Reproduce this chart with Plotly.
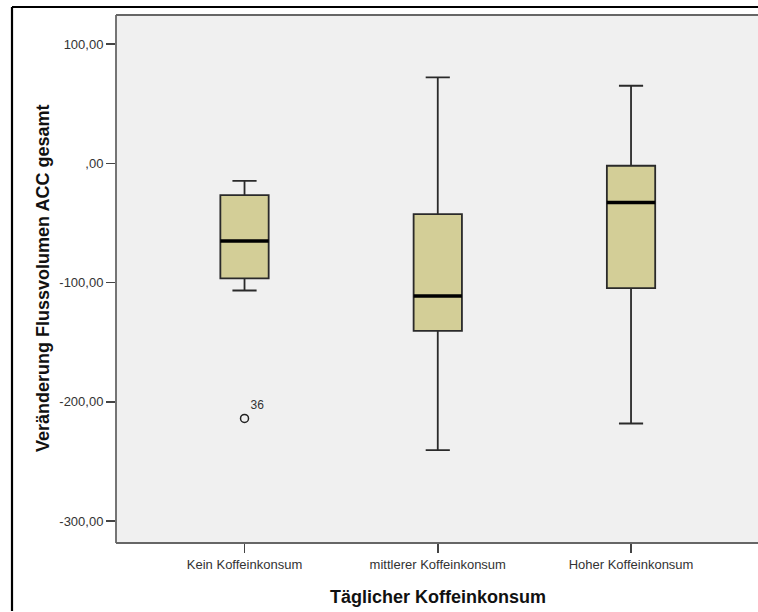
import plotly.graph_objects as go

categories = ["Kein Koffeinkonsum", "mittlerer Koffeinkonsum", "Hoher Koffeinkonsum"]
q1 = [-96.6, -140.5, -104.7]
median = [-65.2, -111.4, -32.9]
q3 = [-26.7, -42.6, -2.1]
lower_whisker = [-106.7, -240.5, -218.2]
upper_whisker = [-14.7, 72.0, 65.0]
outlier_x = [0]
outlier_y = [-214.0]
outlier_labels = ["36"]
ytick_vals = [100, 0, -100, -200, -300]
ytick_text = ["100,00", ",00", "-100,00", "-200,00", "-300,00"]

W, H = 758, 612
L, R, T, B = 116, 0, 15, 69
pw, ph = W - L - R, H - T - B
box_w = 0.25

fig = go.Figure()
xs = list(range(len(categories)))
for i in xs:
    fig.add_trace(go.Box(
        x=[i], q1=[q1[i]], median=[median[i]], q3=[q3[i]],
        lowerfence=[lower_whisker[i]], upperfence=[upper_whisker[i]],
        width=box_w, whiskerwidth=0.5, fillcolor="#d3ce97",
        line=dict(color="#2a2a2a", width=1.8), boxpoints=False,
        showlegend=False, hoverinfo="skip"))
    fig.add_trace(go.Scatter(
        x=[i - box_w / 2, i + box_w / 2], y=[median[i], median[i]],
        mode="lines", line=dict(color="#000000", width=3.5),
        showlegend=False, hoverinfo="skip"))

fig.add_trace(go.Scatter(
    x=outlier_x, y=outlier_y, mode="markers+text", text=outlier_labels,
    textposition="top right",
    textfont=dict(family="Liberation Sans", size=12, color="#333333"),
    marker=dict(symbol="circle-open", size=8, color="#222222", line=dict(width=1.5)),
    showlegend=False, hoverinfo="skip"))

font_tick = dict(family="Liberation Sans", size=13, color="#333333")
frame_gray = dict(color="#666666", width=1.8)
frame_black = dict(color="#000000", width=2.2)
fx0 = (12 - L) / pw
fy1 = (H - B - 7) / ph
fy0 = -(B - 1) / ph
fig.update_layout(
    width=W, height=H,
    margin=dict(l=L, r=R, t=T, b=B, pad=0),
    paper_bgcolor="#ffffff", plot_bgcolor="#f0f0f0",
    dragmode=False,
    xaxis=dict(range=[-0.665, 2.657], tickvals=xs, ticktext=categories,
               ticks="outside", ticklen=9, tickwidth=1.5, tickcolor="#444444",
               showgrid=False, zeroline=False, showline=False, mirror=False,
               tickfont=font_tick, fixedrange=True),
    yaxis=dict(range=[-318.4, 124.3], tickvals=ytick_vals, ticktext=ytick_text,
               ticks="outside", ticklen=9, tickwidth=1.5, tickcolor="#444444",
               showgrid=False, zeroline=False, showline=False, mirror=False,
               tickfont=font_tick, fixedrange=True),
    shapes=[
        dict(type="line", xref="paper", yref="paper", x0=0, x1=1, y0=1, y1=1, line=frame_gray, layer="above"),
        dict(type="line", xref="paper", yref="paper", x0=0, x1=1, y0=0, y1=0, line=frame_gray, layer="above"),
        dict(type="line", xref="paper", yref="paper", x0=0, x1=0, y0=0, y1=1, line=frame_gray, layer="above"),
        dict(type="line", xref="paper", yref="paper", x0=fx0, x1=1, y0=fy1, y1=fy1, line=frame_black, layer="above"),
        dict(type="line", xref="paper", yref="paper", x0=fx0, x1=fx0, y0=fy0, y1=fy1, line=frame_black, layer="above"),
    ],
    annotations=[
        dict(text="<b>Veränderung Flussvolumen ACC gesamt</b>", xref="paper", yref="paper",
             x=(43 - L) / pw, y=0.5, textangle=-90, showarrow=False,
             xanchor="center", yanchor="middle",
             font=dict(family="Liberation Sans", size=18, color="#111111")),
        dict(text="<b>Täglicher Koffeinkonsum</b>", xref="paper", yref="paper",
             x=(438 - L) / pw, y=-(597 - (H - B)) / ph, showarrow=False,
             xanchor="center", yanchor="middle",
             font=dict(family="Liberation Sans", size=18, color="#111111")),
    ],
)

fig.write_html(
    "out.html",
    config={"staticPlot": True, "displayModeBar": False},
    post_script="document.documentElement.style.overflow='hidden';document.body.style.overflow='hidden';document.body.style.margin='0';",
)
